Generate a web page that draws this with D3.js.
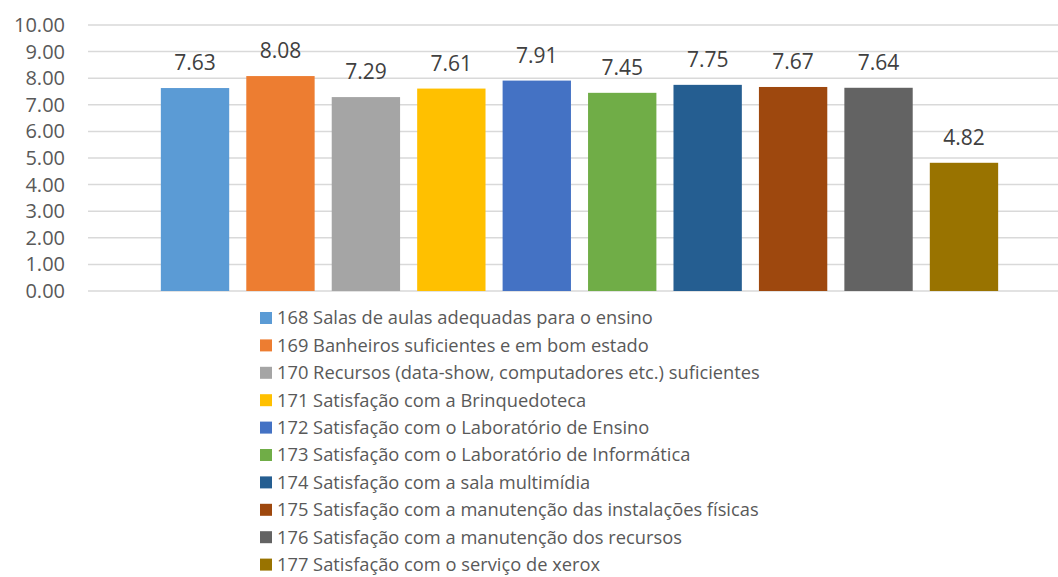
<!DOCTYPE html>
<html>
<head>
<meta charset="utf-8">
<script src="https://cdn.jsdelivr.net/npm/d3@7"></script>
<style>
  body { margin: 0; background: #fff; }
  svg { display: block; font-family: "Open Sans", "Noto Sans", sans-serif; }
</style>
</head>
<body>
<div id="chart"></div>
<script>
// Series (one category, ten series like the source spreadsheet)
const codes = ['168', '169', '170', '171', '172', '173', '174', '175', '176', '177'];
const names = [
  'Salas de aulas adequadas para o ensino',
  'Banheiros suficientes e em bom estado',
  'Recursos (data-show, computadores etc.) suficientes',
  'Satisfação com a Brinquedoteca',
  'Satisfação com o Laboratório de Ensino',
  'Satisfação com o Laboratório de Informática',
  'Satisfação com a sala multimídia',
  'Satisfação com a manutenção das instalações físicas',
  'Satisfação com a manutenção dos recursos',
  'Satisfação com o serviço de xerox'
];
const values = [7.63, 8.08, 7.29, 7.61, 7.91, 7.45, 7.75, 7.67, 7.64, 4.82];
const colors = ['#5B9BD5', '#ED7D31', '#A5A5A5', '#FFC000', '#4472C4',
                '#70AD47', '#255E91', '#9E480E', '#636363', '#997300'];
const yTicks = [0, 1, 2, 3, 4, 5, 6, 7, 8, 9, 10];

const width = 1058, height = 577;
const plot = { left: 88, right: 1058, top: 25, bottom: 291 };

const svg = d3.select('#chart').append('svg')
  .attr('width', width)
  .attr('height', height);

const y = d3.scaleLinear().domain([0, 10]).range([plot.bottom, plot.top]);
const x = d3.scaleBand()
  .domain(codes)
  .range([152.3, 1006.7])
  .paddingInner(0.2)
  .paddingOuter(0.1);

// Gridlines
svg.append('g')
  .selectAll('line')
  .data(yTicks)
  .join('line')
  .attr('x1', plot.left)
  .attr('x2', plot.right)
  .attr('y1', d => y(d))
  .attr('y2', d => y(d))
  .attr('stroke', '#d9d9d9')
  .attr('stroke-width', 1.5);

// Y axis labels
const yAxis = d3.axisLeft(y)
  .tickValues(yTicks)
  .tickFormat(d3.format('.2f'))
  .tickSize(0)
  .tickPadding(0);
const yG = svg.append('g')
  .attr('transform', 'translate(65,0)')
  .call(yAxis);
yG.select('.domain').remove();
yG.selectAll('text')
  .attr('fill', '#595959')
  .attr('font-size', '20px')
  .attr('font-family', '"Open Sans", sans-serif');

// Bars
svg.append('g')
  .selectAll('rect')
  .data(values)
  .join('rect')
  .attr('x', (d, i) => x(codes[i]))
  .attr('y', d => y(d))
  .attr('width', x.bandwidth())
  .attr('height', d => y(0) - y(d))
  .attr('fill', (d, i) => colors[i]);

// Value labels
svg.append('g')
  .selectAll('text')
  .data(values)
  .join('text')
  .attr('x', (d, i) => x(codes[i]) + x.bandwidth() / 2)
  .attr('y', d => y(d) - 18)
  .attr('text-anchor', 'middle')
  .attr('fill', '#404040')
  .attr('font-size', '21px')
  .text(d => d.toFixed(2));

// Legend
const legend = svg.append('g').attr('transform', 'translate(260,318)');
const rowH = 27.4;
const items = legend.selectAll('g')
  .data(codes)
  .join('g')
  .attr('transform', (d, i) => `translate(0,${i * rowH})`);
items.append('rect')
  .attr('x', 0)
  .attr('y', -6)
  .attr('width', 12)
  .attr('height', 12)
  .attr('fill', (d, i) => colors[i]);
items.append('text')
  .attr('x', 17)
  .attr('y', 0)
  .attr('dy', '0.35em')
  .attr('fill', '#595959')
  .attr('font-size', '18.3px')
  .text((d, i) => `${d} ${names[i]}`);
</script>
</body>
</html>
